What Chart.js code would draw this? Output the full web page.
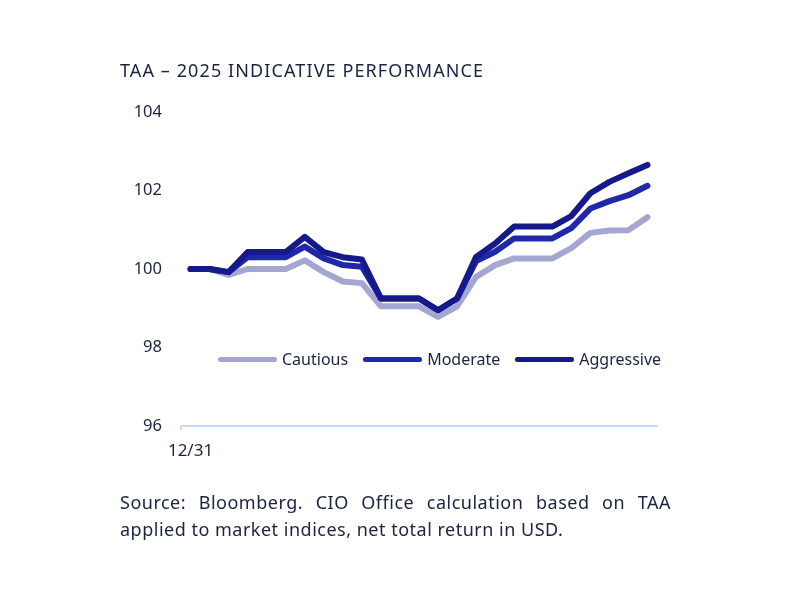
<!DOCTYPE html>
<html>
<head>
<meta charset="utf-8">
<script src="https://cdn.jsdelivr.net/npm/chart.js@4"></script>
<style>
  body { margin: 0; background: #fff; font-family: "Noto Sans", sans-serif; color: #1a2340; }
  #wrap { position: relative; width: 800px; height: 600px; }
  #chart { position: absolute; left: 0; top: 0; }
  .title { position: absolute; left: 120px; top: 58px; font-size: 18px; letter-spacing: 1.1px; }
  .source { position: absolute; left: 120px; top: 489px; width: 551px; font-size: 18px; letter-spacing: 0.5px; line-height: 27px; text-align: justify; text-align-last: left; }
  .legend { position: absolute; left: 218px; top: 348px; display: flex; align-items: center; font-size: 16px; }
  .legend span.sw { display: inline-block; width: 59px; height: 5px; border-radius: 3px; margin-right: 5px; }
  .legend span.lb { margin-right: 15px; }
</style>
</head>
<body>
<div id="wrap">
  <canvas id="chart" width="800" height="600"></canvas>
  <div class="title">TAA – 2025 INDICATIVE PERFORMANCE</div>
  <div class="legend" id="legend"></div>
  <div class="source">Source: Bloomberg. CIO Office calculation based on TAA applied to market indices, net total return in USD.</div>
</div>
<script>
// weekly points, first one is 12/31
const labels = ["12/31", "", "", "", "", "", "", "", "", "", "", "", "", "", "", "", "", "", "", "", "", "", "", "", ""];
const cautious = [100, 100, 99.85, 100.0, 100.0, 100.0, 100.22, 99.92, 99.68, 99.64, 99.05, 99.05, 99.05, 98.78, 99.05, 99.8, 100.1, 100.27, 100.27, 100.27, 100.53, 100.92, 100.98, 100.99, 101.32];
const moderate = [100, 100, 99.92, 100.3, 100.3, 100.3, 100.57, 100.27, 100.1, 100.06, 99.25, 99.25, 99.25, 98.95, 99.25, 100.2, 100.44, 100.78, 100.78, 100.78, 101.04, 101.54, 101.73, 101.88, 102.12];
const aggressive = [100, 100, 99.92, 100.43, 100.43, 100.43, 100.82, 100.43, 100.3, 100.24, 99.25, 99.25, 99.25, 98.95, 99.25, 100.31, 100.65, 101.08, 101.08, 101.08, 101.35, 101.93, 102.22, 102.44, 102.65];
const seriesNames = ["Cautious", "Moderate", "Aggressive"];
const seriesColors = ["#a5a6d2", "#1f28a8", "#15198a"];
const yTicks = [96, 98, 100, 102, 104];

const textColor = "#1a2340";
const axisColor = "#c6d9f5";

function line(i, data, order) {
  return {
    label: seriesNames[i],
    data: data,
    borderColor: seriesColors[i],
    backgroundColor: seriesColors[i],
    borderWidth: 6,
    borderCapStyle: "round",
    borderJoinStyle: "round",
    pointRadius: 0,
    tension: 0,
    order: order
  };
}

new Chart(document.getElementById("chart"), {
  type: "line",
  data: {
    labels: labels,
    datasets: [line(0, cautious, 2), line(1, moderate, 1), line(2, aggressive, 0)]
  },
  options: {
    responsive: false,
    animation: false,
    layout: { padding: { left: 121, right: 143, top: 112, bottom: 134 } },
    plugins: { legend: { display: false }, tooltip: { enabled: false } },
    scales: {
      x: {
        offset: true,
        border: { color: axisColor, width: 2 },
        grid: {
          drawOnChartArea: false,
          tickLength: 4,
          offset: true,
          color: (c) => c.index === 0 ? axisColor : "rgba(0,0,0,0)",
          lineWidth: 2
        },
        ticks: {
          autoSkip: false, maxRotation: 0, padding: 11,
          color: textColor, font: { family: "Noto Sans", size: 17 }
        },
        afterFit: (s) => { s.height = 40; }
      },
      y: {
        min: yTicks[0], max: yTicks[yTicks.length - 1],
        border: { display: false },
        grid: { display: false, drawTicks: false },
        afterBuildTicks: (s) => { s.ticks = yTicks.map(v => ({ value: v })); },
        ticks: { padding: 19, color: textColor, font: { family: "Noto Sans", size: 16.5 } },
        afterFit: (s) => { s.width = 60; }
      }
    }
  }
});

const lg = document.getElementById("legend");
seriesNames.forEach((n, i) => {
  lg.innerHTML += '<span class="sw" style="background:' + seriesColors[i] + '"></span><span class="lb">' + n + '</span>';
});
</script>
</body>
</html>
